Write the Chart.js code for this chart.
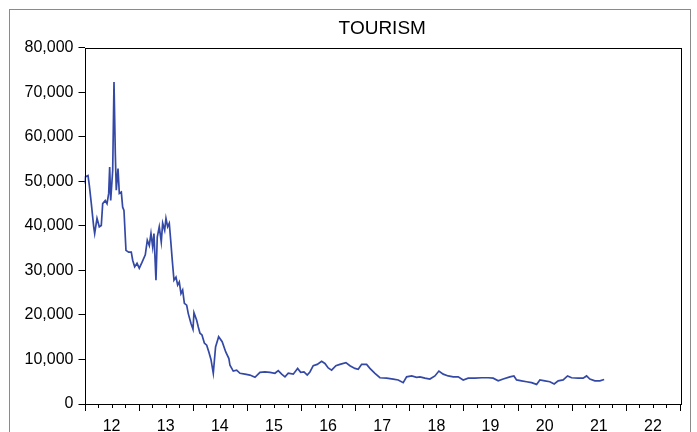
<!DOCTYPE html>
<html>
<head>
<meta charset="utf-8">
<script src="https://cdn.jsdelivr.net/npm/chart.js@4"></script>
<style>
  body { margin: 0; background: #fff; overflow: hidden; }
  #marco { position: absolute; left: 9px; top: 9px; width: 680px; height: 460px; border: 1px solid #8a8a8a; }
  #grafico { position: absolute; left: 0; top: 0; }
</style>
</head>
<body>
<div id="marco"></div>
<canvas id="grafico" width="697" height="432"></canvas>
<script>
// fechas en años decimales, valores de TOURISM
var fechas = [
  2012.003, 2012.015, 2012.065, 2012.089, 2012.126, 2012.170, 2012.188, 2012.231, 2012.273, 2012.310,
  2012.336, 2012.384, 2012.416, 2012.447, 2012.465, 2012.484, 2012.521, 2012.545, 2012.569, 2012.587,
  2012.619, 2012.643, 2012.680, 2012.705, 2012.729, 2012.766, 2012.816, 2012.864, 2012.890, 2012.927,
  2012.970, 2013.012, 2013.062, 2013.123, 2013.160, 2013.197, 2013.228, 2013.259, 2013.283, 2013.320,
  2013.344, 2013.381, 2013.418, 2013.444, 2013.481, 2013.505, 2013.536, 2013.566, 2013.592, 2013.621,
  2013.653, 2013.690, 2013.721, 2013.751, 2013.782, 2013.813, 2013.845, 2013.887, 2013.917, 2013.967,
  2014.004, 2014.022, 2014.072, 2014.102, 2014.133, 2014.170, 2014.214, 2014.257, 2014.297, 2014.336,
  2014.379, 2014.421, 2014.478, 2014.543, 2014.609, 2014.667, 2014.687, 2014.748, 2014.811, 2014.872,
  2014.964, 2015.056, 2015.149, 2015.241, 2015.333, 2015.426, 2015.518, 2015.579, 2015.642, 2015.703,
  2015.764, 2015.856, 2015.937, 2015.993, 2016.054, 2016.114, 2016.164, 2016.225, 2016.299, 2016.380,
  2016.441, 2016.502, 2016.565, 2016.644, 2016.718, 2016.829, 2016.903, 2016.995, 2017.056, 2017.119,
  2017.211, 2017.272, 2017.365, 2017.457, 2017.581, 2017.703, 2017.795, 2017.887, 2017.950, 2018.043,
  2018.135, 2018.196, 2018.288, 2018.380, 2018.473, 2018.546, 2018.626, 2018.718, 2018.811, 2018.903,
  2018.995, 2019.088, 2019.211, 2019.335, 2019.457, 2019.549, 2019.642, 2019.734, 2019.858, 2019.932,
  2019.981, 2020.074, 2020.166, 2020.258, 2020.351, 2020.412, 2020.504, 2020.596, 2020.676, 2020.750,
  2020.842, 2020.923, 2020.997, 2021.119, 2021.211, 2021.274, 2021.335, 2021.428, 2021.520, 2021.599
];
var valores = [
  49500, 51000, 51300, 49100, 45000, 39800, 38300, 41700, 39800, 40100,
  45000, 45700, 45000, 47300, 53200, 45700, 52500, 72300, 56300, 48000,
  52900, 47300, 47600, 44200, 43500, 34500, 34100, 34100, 32300, 30800,
  31600, 30500, 31800, 33500, 36800, 35600, 38300, 35300, 38300, 27800,
  37500, 39800, 36400, 40600, 39000, 41700, 39800, 40600, 36800, 32300,
  27800, 28500, 26700, 27400, 24800, 25600, 22600, 22200, 20300, 18100,
  16800, 20500, 18800, 17300, 15900, 15500, 13700, 13200, 11700, 10000,
  6900, 12800, 15100, 14000, 11700, 10200, 8700, 7400, 7600, 6900,
  6700, 6500, 6000, 7100, 7200, 7100, 6900, 7500, 6700, 6100,
  6900, 6700, 8000, 7100, 7200, 6500, 7200, 8600, 8900, 9600,
  9100, 8100, 7600, 8600, 8900, 9300, 8600, 8000, 7800, 8900,
  8900, 8000, 6900, 5900, 5800, 5600, 5400, 4800, 6100, 6300,
  6000, 6100, 5800, 5600, 6300, 7400, 6700, 6300, 6100, 6100,
  5400, 5800, 5800, 5900, 5900, 5800, 5200, 5600, 6100, 6300,
  5400, 5200, 5000, 4800, 4400, 5400, 5200, 5000, 4500, 5200,
  5400, 6300, 5900, 5800, 5800, 6300, 5600, 5200, 5200, 5500
];
var anios = [2012, 2013, 2014, 2015, 2016, 2017, 2018, 2019, 2020, 2021, 2022];
var etiquetasAnios = ["12", "13", "14", "15", "16", "17", "18", "19", "20", "21", "22"];

var puntos = [];
for (var i = 0; i < fechas.length; i++) {
  puntos.push({ x: fechas[i], y: valores[i] });
}

// marco del area de trazado y marcas trimestrales del eje x
const marcoPlugin = {
  id: "marcoPlugin",
  afterDraw(chart) {
    const ctx = chart.ctx;
    const a = chart.chartArea;
    const sx = chart.scales.x;
    ctx.save();
    ctx.strokeStyle = "#000";
    ctx.lineWidth = 1;
    ctx.strokeRect(Math.round(a.left) + 0.5, Math.round(a.top) + 0.5,
      Math.round(a.right - a.left), Math.round(a.bottom - a.top));
    ctx.beginPath();
    for (var an = anios[0]; an <= anios[anios.length - 1] + 1; an++) {
      for (var q = 0; q < 4; q++) {
        if (an + q / 4 > anios[anios.length - 1] + 1) break;
        var px = Math.round(sx.getPixelForValue(an + q / 4)) + 0.5;
        var largo = q == 0 ? 7 : 4;
        ctx.moveTo(px, Math.round(a.bottom));
        ctx.lineTo(px, Math.round(a.bottom) + largo);
      }
    }
    ctx.stroke();
    ctx.restore();
  }
};

const config = {
  type: "line",
  data: {
    datasets: [{
      label: "TOURISM",
      data: puntos,
      borderColor: "#3449a6",
      borderWidth: 1.7,
      pointRadius: 0,
      tension: 0,
      fill: false
    }]
  },
  options: {
    responsive: false,
    animation: false,
    layout: { padding: { left: 0, right: 17, top: 0, bottom: 0 } },
    plugins: {
      legend: { display: false },
      tooltip: { enabled: false },
      title: {
        display: true,
        text: "TOURISM",
        fullSize: false,
        color: "#000",
        font: { family: "'Liberation Sans', Arial, sans-serif", size: 19, weight: "normal" },
        padding: { top: 17, bottom: 8 }
      }
    },
    scales: {
      x: {
        type: "linear",
        min: anios[0],
        max: anios[anios.length - 1] + 1,
        grid: { display: false },
        border: { display: false },
        afterBuildTicks: function (scale) {
          scale.ticks = anios.map(function (a) { return { value: a + 0.5 }; });
        },
        afterFit: function (scale) { scale.height = 28; },
        ticks: {
          autoSkip: false,
          maxRotation: 0,
          padding: 5,
          color: "#000",
          font: { family: "'Liberation Sans', Arial, sans-serif", size: 16 },
          callback: function (v) {
            var k = anios.indexOf(Math.round(v - 0.5));
            return k >= 0 ? etiquetasAnios[k] : "";
          }
        }
      },
      y: {
        min: 0,
        max: 80000,
        border: { display: false },
        grid: { drawOnChartArea: false, drawTicks: true, tickLength: 6, color: "#000" },
        afterFit: function (scale) { scale.width = 84.5; },
        ticks: {
          stepSize: 10000,
          padding: 5,
          color: "#000",
          font: { family: "'Liberation Sans', Arial, sans-serif", size: 16 },
          callback: function (v) { return v.toLocaleString("en-US"); }
        }
      }
    }
  },
  plugins: [marcoPlugin]
};

var grafico = new Chart(document.getElementById("grafico"), config);
</script>
</body>
</html>
